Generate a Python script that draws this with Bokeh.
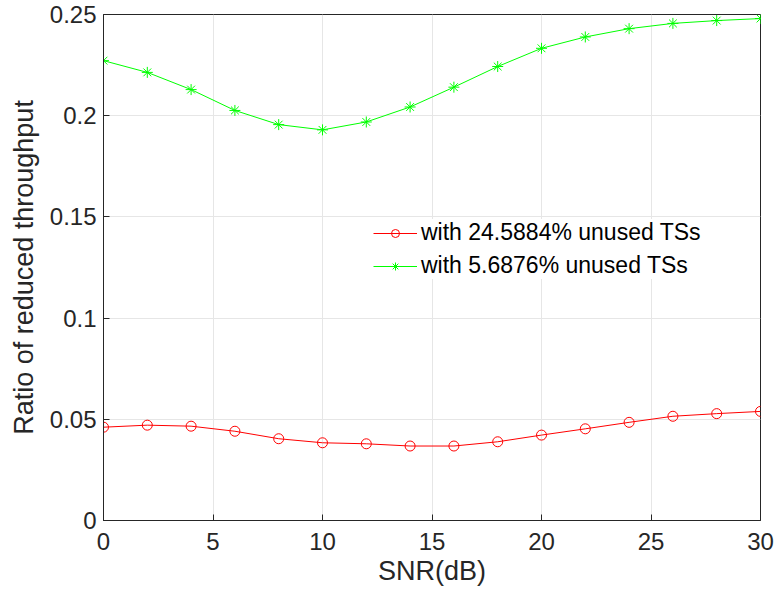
from bokeh.plotting import figure
from bokeh.models import Range1d, FixedTicker, Legend, LegendItem
from bokeh.embed import file_html
from bokeh.resources import INLINE

snr = [0, 2, 4, 6, 8, 10, 12, 14, 16, 18, 20, 22, 24, 26, 28, 30]
red_vals = [0.0461, 0.0471, 0.0466, 0.0441, 0.0404, 0.0384, 0.0379, 0.0368,
            0.0368, 0.0389, 0.0422, 0.0453, 0.0485, 0.0515, 0.0528, 0.0539]
green_vals = [0.2272, 0.2214, 0.2129, 0.2026, 0.1956, 0.1930, 0.1969, 0.2043,
              0.2141, 0.2243, 0.2333, 0.2389, 0.2430, 0.2456, 0.2470, 0.2480]
red_label = "with 24.5884% unused TSs"
green_label = "with 5.6876% unused TSs"
x_ticks = [0, 5, 10, 15, 20, 25, 30]
y_ticks = [0, 0.05, 0.1, 0.15, 0.2, 0.25]
y_tick_labels = ["0", "0.05", "0.1", "0.15", "0.2", "0.25"]

FONT = "Liberation Sans"
AX = "#262626"

p = figure(width=776, height=600, output_backend="svg", toolbar_location=None,
           x_range=Range1d(0, 30), y_range=Range1d(0, 0.25),
           min_border_left=103, min_border_right=16, min_border_top=14, min_border_bottom=80)
p.background_fill_color = "white"
p.border_fill_color = "white"
p.outline_line_color = AX
p.outline_line_width = 1

xax = p.xaxis[0]
yax = p.yaxis[0]
for ax in (xax, yax):
    ax.major_tick_in = 6
    ax.major_tick_out = 0
    ax.minor_tick_in = 0
    ax.minor_tick_out = 0
    ax.axis_line_color = AX
    ax.major_tick_line_color = AX
    ax.major_label_text_font = FONT
    ax.major_label_text_font_size = "24px"
    ax.major_label_text_color = AX
    ax.axis_label_text_font = FONT
    ax.axis_label_text_font_size = "27px"
    ax.axis_label_text_font_style = "normal"
    ax.axis_label_text_color = AX

xax.ticker = FixedTicker(ticks=x_ticks)
yax.ticker = FixedTicker(ticks=y_ticks)
yax.major_label_overrides = {t: l for t, l in zip(y_ticks, y_tick_labels)}
xax.axis_label = "SNR(dB)"
yax.axis_label = "Ratio of reduced throughput"
xax.major_label_standoff = 12
yax.major_label_standoff = 7
xax.axis_label_standoff = 3
yax.axis_label_standoff = 8

p.xgrid.grid_line_color = "#e6e6e6"
p.ygrid.grid_line_color = "#e6e6e6"
p.xgrid.ticker = FixedTicker(ticks=x_ticks)
p.ygrid.ticker = FixedTicker(ticks=y_ticks)

rl = p.line(snr, red_vals, line_color="#ff0000", line_width=1)
rm = p.scatter(snr, red_vals, marker="circle", size=10, line_color="#ff0000",
               fill_color=None, line_width=1)
gl = p.line(snr, green_vals, line_color="#00ff00", line_width=1)
gm = p.scatter(snr, green_vals, marker="asterisk", size=11, line_color="#00ff00",
               line_width=1)

legend = Legend(items=[LegendItem(label=red_label, renderers=[rl, rm]),
                       LegendItem(label=green_label, renderers=[gl, gm])],
                location=(270, 241))
legend.label_text_font = FONT
legend.label_text_font_size = "23px"
legend.label_text_color = "#000000"
legend.border_line_color = None
legend.background_fill_color = "white"
legend.background_fill_alpha = 1
legend.glyph_width = 44
legend.spacing = 6
legend.padding = 6
legend.label_standoff = 4
p.add_layout(legend, "center")

open("out.html", "w").write(file_html(p, INLINE))
